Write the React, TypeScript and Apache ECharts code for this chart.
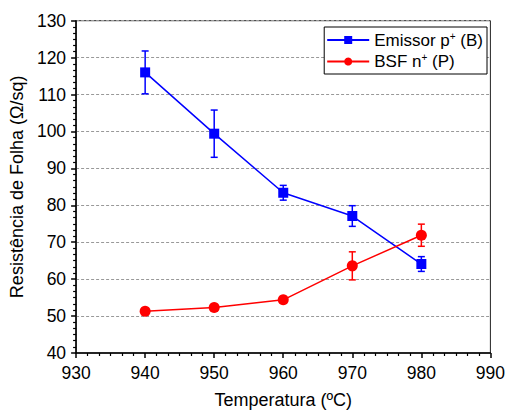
import React, { useEffect, useRef } from "react";
import * as echarts from "echarts";

const temperatures = [940, 950, 960, 970, 980];
const emissorValues = [116, 99.4, 83.4, 77.1, 64.1];
const emissorErrors = [5.8, 6.4, 2.0, 2.8, 2.0];
const bsfValues = [51.3, 52.3, 54.4, 63.6, 71.9];
const bsfErrors = [0.4, 0.4, 0.4, 3.8, 3.0];

const seriesNames = ["Emissor p+ (B)", "BSF n+ (P)"];
const blue = "#0000ff";
const red = "#ff0000";
const FONT = "Liberation Sans";

function errData(vals: number[], errs: number[]) {
  return temperatures.map((t, i) => [t, vals[i] - errs[i], vals[i] + errs[i]]);
}

function errorSeries(vals: number[], errs: number[], color: string) {
  return {
    type: "custom",
    data: errData(vals, errs),
    encode: { x: 0, y: [1, 2] },
    z: 3,
    silent: true,
    renderItem: (params: any, api: any) => {
      const x = api.value(0);
      const lo = api.coord([x, api.value(1)]);
      const hi = api.coord([x, api.value(2)]);
      const hw = 3.5;
      const style = { stroke: color, lineWidth: 1.5, fill: "none" };
      return {
        type: "group",
        children: [
          { type: "line", shape: { x1: lo[0], y1: lo[1], x2: hi[0], y2: hi[1] }, style },
          { type: "line", shape: { x1: lo[0] - hw, y1: lo[1], x2: lo[0] + hw, y2: lo[1] }, style },
          { type: "line", shape: { x1: hi[0] - hw, y1: hi[1], x2: hi[0] + hw, y2: hi[1] }, style },
        ],
      };
    },
  };
}

export default function App() {
  const ref = useRef<HTMLDivElement>(null);
  useEffect(() => {
    if (!ref.current) return;
    const chart = echarts.init(ref.current, undefined, { renderer: "svg" });
    chart.setOption({
      animation: false,
      backgroundColor: "#ffffff",
      textStyle: { fontFamily: FONT },
      grid: {
        left: 74.5,
        right: 15,
        top: 20.7,
        bottom: 56.5,
        show: true,
        borderColor: "#222",
        borderWidth: 1,
        backgroundColor: "transparent",
      },
      legend: {
        data: seriesNames,
        orient: "vertical",
        right: 21,
        top: 27,
        backgroundColor: "#fff",
        borderColor: "#000",
        borderWidth: 1,
        borderRadius: 0,
        padding: [4, 4, 4, 2],
        itemGap: 4,
        itemWidth: 42,
        itemHeight: 10,
        textStyle: {
          fontFamily: FONT,
          fontSize: 17,
          color: "#000",
          rich: {
            a: { fontFamily: FONT, fontSize: 17, color: "#000" },
            s: { fontFamily: FONT, fontSize: 10, color: "#000", verticalAlign: "top", padding: [0, 0, 8, 0] },
          },
        },
        formatter: (name: string) => {
          const parts = name.split("+");
          return `{a|${parts[0]}}{s|+}{a|${parts[1]}}`;
        },
      },
      xAxis: {
        type: "value",
        min: 930,
        max: 990,
        interval: 10,
        name: "Temperatura (ºC)",
        nameLocation: "middle",
        nameGap: 38,
        nameTextStyle: { fontFamily: FONT, fontSize: 18, color: "#000" },
        axisLine: { lineStyle: { color: "#000", width: 1.5 } },
        axisTick: { show: true, inside: false, length: 5, lineStyle: { color: "#000", width: 1.5 } },
        minorTick: { show: true, splitNumber: 6, length: 3, lineStyle: { color: "#000", width: 1.2 } },
        axisLabel: { fontFamily: FONT, fontSize: 17.5, color: "#000", margin: 11 },
        splitLine: { show: false },
      },
      yAxis: {
        type: "value",
        min: 40,
        max: 130,
        interval: 10,
        name: "Resistência de Folha (Ω/sq)",
        nameLocation: "middle",
        nameGap: 45,
        nameTextStyle: { fontFamily: FONT, fontSize: 18, color: "#000" },
        axisLine: { show: true, lineStyle: { color: "#000", width: 1.5 } },
        axisTick: { show: true, inside: false, length: 5, lineStyle: { color: "#000", width: 1.5 } },
        minorTick: { show: true, splitNumber: 6, length: 3, lineStyle: { color: "#000", width: 1.2 } },
        axisLabel: { fontFamily: FONT, fontSize: 17.5, color: "#000", margin: 10 },
        splitLine: { show: true, lineStyle: { color: "#999", type: [3, 2], width: 1 } },
      },
      series: [
        {
          name: seriesNames[0],
          type: "line",
          data: temperatures.map((t, i) => [t, emissorValues[i]]),
          symbol: "rect",
          symbolSize: 10,
          color: blue,
          lineStyle: { color: blue, width: 1.5 },
          itemStyle: { color: blue },
          z: 4,
        },
        {
          name: seriesNames[1],
          type: "line",
          data: temperatures.map((t, i) => [t, bsfValues[i]]),
          symbol: "circle",
          symbolSize: 11,
          color: red,
          lineStyle: { color: red, width: 1.5 },
          itemStyle: { color: red },
          z: 4,
        },
        errorSeries(emissorValues, emissorErrors, blue),
        errorSeries(bsfValues, bsfErrors, red),
      ],
    });
    return () => chart.dispose();
  }, []);
  return <div ref={ref} style={{ width: 508, height: 414, position: "absolute", left: 0, top: 0 }} />;
}
